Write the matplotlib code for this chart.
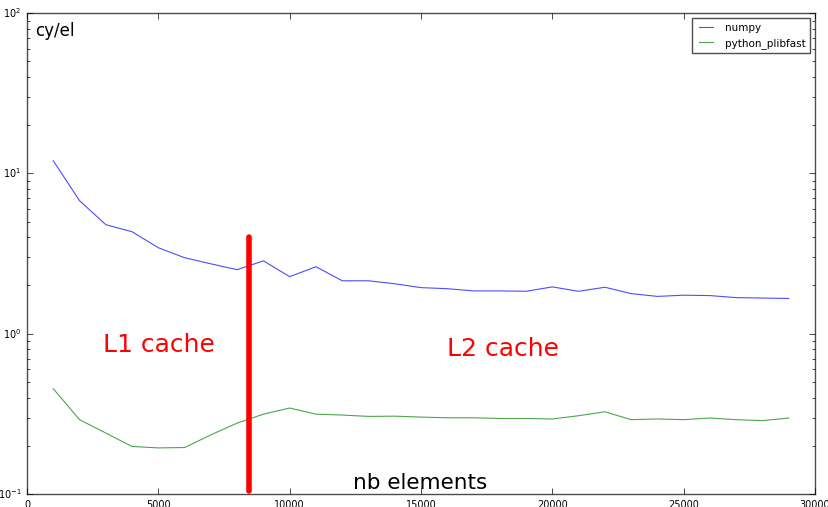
import matplotlib
matplotlib.use('Agg')
import matplotlib.pyplot as plt

# nb elements
sizes = list(range(1000, 30000, 1000))

# cycles per element
numpy_cy = [12.0, 6.76, 4.79, 4.33, 3.44, 2.98, 2.73, 2.51, 2.85, 2.27,
            2.62, 2.14, 2.14, 2.05, 1.94, 1.91, 1.85, 1.85, 1.84, 1.96,
            1.84, 1.95, 1.78, 1.71, 1.74, 1.73, 1.68, 1.67, 1.66]
plibfast_cy = [0.454, 0.291, 0.240, 0.198, 0.194, 0.195, 0.234, 0.277, 0.315, 0.344,
               0.315, 0.311, 0.305, 0.306, 0.302, 0.299, 0.299, 0.296, 0.296, 0.294,
               0.308, 0.326, 0.291, 0.294, 0.291, 0.298, 0.291, 0.287, 0.298]

cache_limit = 8450
cache_line_y = [0.104, 4.0]

plt.style.use('classic')
fig = plt.figure(figsize=(8.29, 5.07), dpi=100, facecolor='white')
ax = fig.add_axes([0.0326, 0.0256, 0.9505, 0.9484])
ax.set_facecolor('white')

ax.plot(sizes, numpy_cy, color='b', lw=0.8, alpha=0.7, label='numpy')
ax.plot(sizes, plibfast_cy, color='g', lw=0.8, alpha=0.7, label='python_plibfast')
ax.plot([cache_limit, cache_limit], cache_line_y, color='r', lw=4, solid_capstyle='round')

ax.set_yscale('log')
ax.set_xlim(0, 30000)
ax.set_ylim(0.1, 100)

ax.text(300, 72, 'cy/el', fontsize=12)
ax.text(2900, 0.77, 'L1 cache', fontsize=18, color='r')
ax.text(16000, 0.73, 'L2 cache', fontsize=18, color='r')
ax.text(12400, 0.107, 'nb elements', fontsize=15.5)

for sp in ax.spines.values():
    sp.set_color('0.3')
ax.tick_params(labelsize=7)
leg = ax.legend(loc='upper right', fontsize=7.5)
leg.get_frame().set_edgecolor('0.3')

fig.savefig('out.png', dpi=100, facecolor='white')
